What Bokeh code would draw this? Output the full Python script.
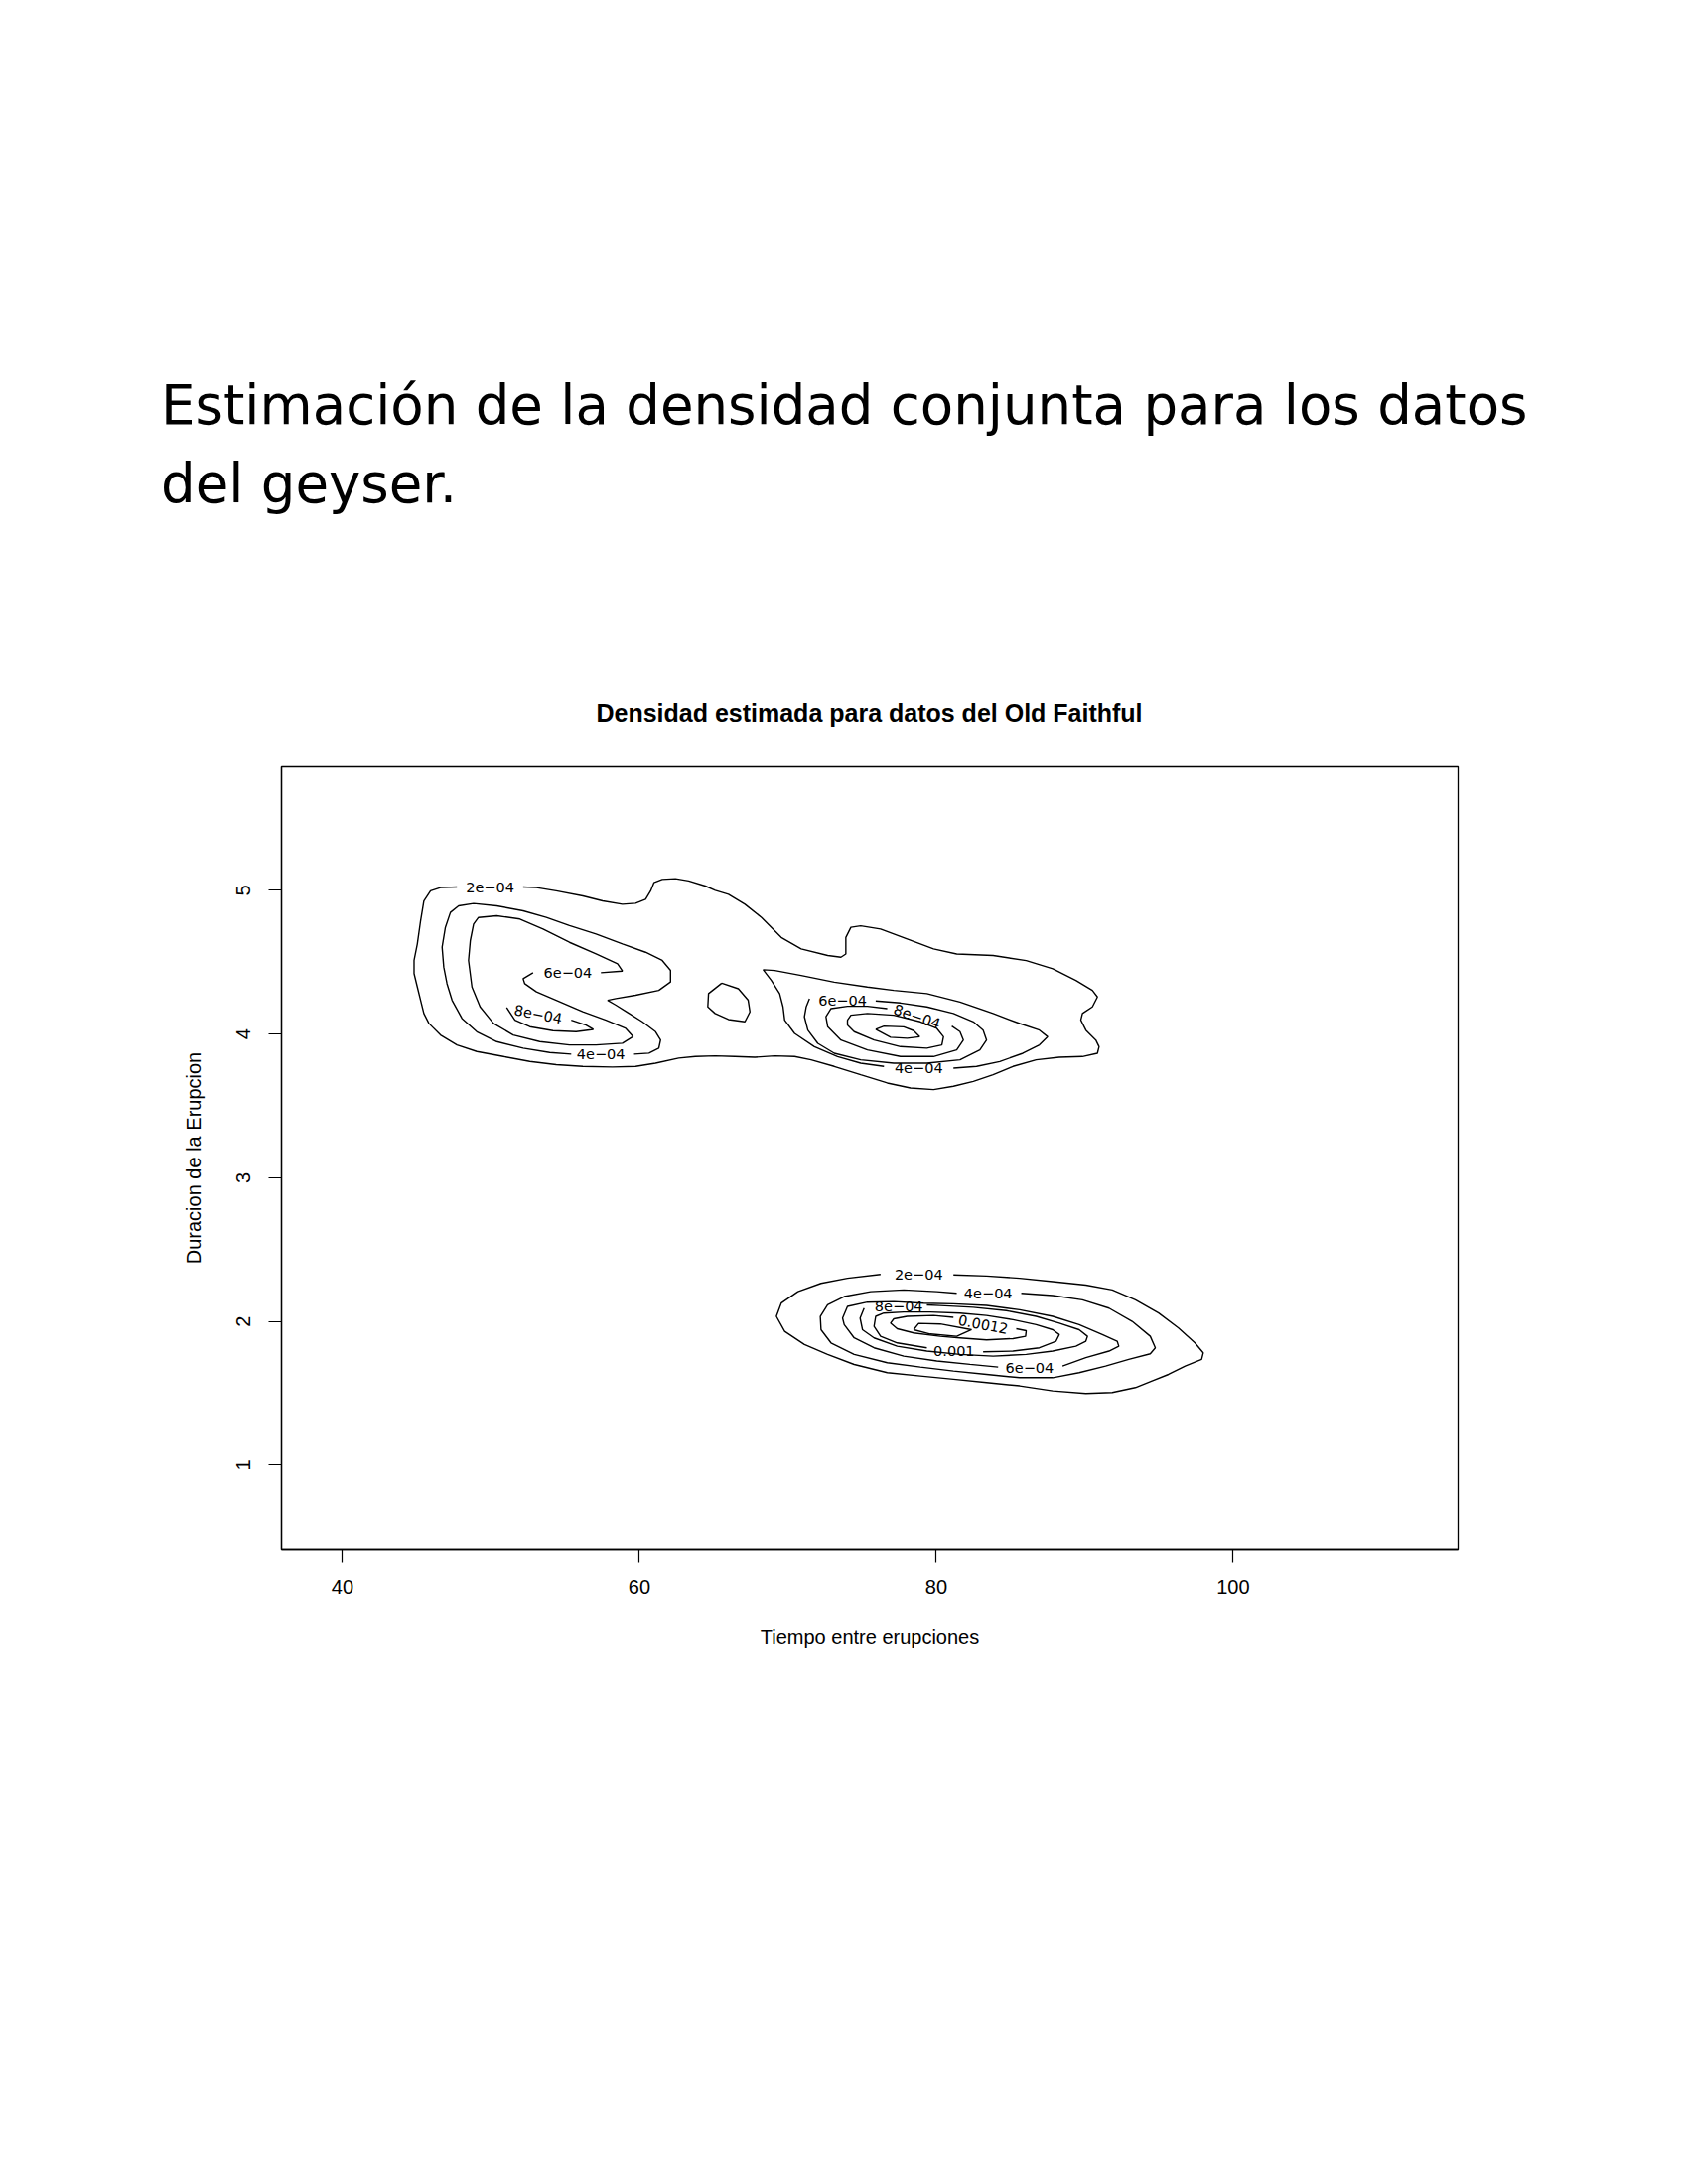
import math
from bokeh.plotting import figure
from bokeh.layouts import column
from bokeh.models import Range1d, FixedTicker, ColumnDataSource, Div
from bokeh.core.properties import value
from bokeh.embed import file_html
from bokeh.resources import INLINE

# ---------------- data ----------------
HEADING_1 = "Estimación de la densidad conjunta para los datos"
HEADING_2 = "del geyser."
TITLE = "Densidad estimada para datos del Old Faithful"
X_LABEL = "Tiempo entre erupciones"
Y_LABEL = "Duracion de la Erupcion"
X_TICKS = [40, 60, 80, 100]
Y_TICKS = [1, 2, 3, 4, 5]
X_LIM = (35.89, 115.16)
Y_LIM = (0.415, 5.859)

# contour lines (waiting, eruption) -- upper cluster
UPPER_2E04 = [(52.17, 5.023), (53.07, 5.019), (54.40, 4.996), (56.19, 4.961), (57.52, 4.926), (58.86, 4.903),
              (59.75, 4.910), (60.42, 4.938), (60.76, 4.996), (60.98, 5.053), (61.54, 5.076), (62.43, 5.081),
              (63.32, 5.065), (64.44, 5.030), (65.11, 5.000), (66.00, 4.972), (67.11, 4.903), (68.23, 4.811),
              (69.56, 4.672), (70.90, 4.592), (72.69, 4.546), (73.58, 4.534), (73.91, 4.557), (73.91, 4.672),
              (74.25, 4.742), (74.91, 4.753), (76.25, 4.730), (78.04, 4.661), (79.82, 4.592), (81.38, 4.557),
              (83.83, 4.546), (86.06, 4.511), (87.85, 4.454), (89.41, 4.373), (90.52, 4.304), (90.86, 4.258),
              (90.52, 4.189), (89.85, 4.143), (89.74, 4.097), (90.08, 4.027), (90.75, 3.958), (90.97, 3.912),
              (90.86, 3.866), (89.85, 3.843), (88.29, 3.838), (86.73, 3.820), (85.17, 3.774), (83.83, 3.716),
              (82.50, 3.670), (81.16, 3.636), (79.82, 3.613), (78.26, 3.624), (76.70, 3.659), (74.91, 3.716),
              (73.13, 3.774), (71.57, 3.820), (70.46, 3.843), (69.12, 3.848), (67.78, 3.838), (66.44, 3.843),
              (65.10, 3.848), (63.77, 3.843), (62.65, 3.832), (61.09, 3.797), (59.75, 3.774), (58.19, 3.770),
              (56.19, 3.774), (54.40, 3.786), (52.62, 3.809), (50.84, 3.843), (49.05, 3.878), (47.71, 3.924),
              (46.60, 3.993), (45.82, 4.074), (45.48, 4.143), (45.26, 4.235), (45.04, 4.327), (44.82, 4.420),
              (44.82, 4.512), (45.04, 4.627), (45.26, 4.788), (45.48, 4.926), (45.93, 4.996), (46.60, 5.019),
              (47.71, 5.023)]
UPPER_ISLAND = [(65.55, 4.354), (66.67, 4.315), (67.33, 4.235), (67.45, 4.154), (67.11, 4.085), (66.00, 4.101),
                (65.10, 4.143), (64.61, 4.189), (64.66, 4.281), (65.55, 4.354)]
LEFT_4E04 = [(59.64, 3.860), (60.65, 3.867), (61.31, 3.901), (61.43, 3.959), (61.09, 4.016), (60.20, 4.085),
             (59.31, 4.143), (58.42, 4.201), (57.86, 4.235), (58.42, 4.247), (59.75, 4.270), (61.31, 4.304),
             (62.10, 4.362), (62.10, 4.443), (61.54, 4.512), (60.42, 4.569), (58.86, 4.627), (57.08, 4.696),
             (55.29, 4.754), (53.73, 4.811), (52.17, 4.857), (50.39, 4.892), (48.83, 4.908), (47.82, 4.892),
             (47.27, 4.846), (46.93, 4.742), (46.71, 4.604), (46.82, 4.466), (47.04, 4.350), (47.38, 4.235),
             (48.05, 4.108), (49.05, 4.016), (50.39, 3.947), (52.17, 3.901), (53.96, 3.871), (55.41, 3.860)]
LEFT_6E04 = [(57.41, 4.426), (58.86, 4.438), (58.53, 4.489), (57.08, 4.558), (55.29, 4.638), (53.51, 4.731),
             (51.95, 4.800), (50.39, 4.823), (49.16, 4.811), (48.83, 4.765), (48.61, 4.650), (48.49, 4.512),
             (48.72, 4.327), (49.27, 4.189), (50.17, 4.074), (51.50, 3.993), (53.29, 3.947), (55.29, 3.924),
             (57.08, 3.924), (58.86, 3.936), (59.58, 3.982), (59.08, 4.039), (57.75, 4.097), (56.19, 4.155),
             (54.40, 4.235), (53.07, 4.293), (52.28, 4.350), (52.17, 4.385), (52.84, 4.426)]
LEFT_8E04 = [(55.41, 4.097), (56.41, 4.062), (56.90, 4.032), (55.74, 4.016), (54.18, 4.023), (52.62, 4.051),
             (51.62, 4.097), (51.06, 4.184)]
RIGHT_4E04 = [(81.16, 3.762), (82.72, 3.774), (84.28, 3.808), (85.84, 3.866), (86.95, 3.924), (87.51, 3.981),
              (86.95, 4.027), (85.62, 4.073), (83.83, 4.143), (81.60, 4.223), (79.37, 4.281), (77.14, 4.304),
              (75.36, 4.327), (73.13, 4.361), (70.90, 4.407), (69.12, 4.442), (68.34, 4.447), (68.89, 4.373),
              (69.45, 4.281), (69.68, 4.189), (69.79, 4.097), (70.46, 4.004), (71.79, 3.912), (73.35, 3.843),
              (74.91, 3.797), (76.48, 3.774)]
RIGHT_6E04 = [(75.92, 4.230), (77.59, 4.216), (79.37, 4.189), (81.16, 4.143), (82.50, 4.085), (83.16, 4.027),
              (83.39, 3.958), (82.94, 3.889), (81.60, 3.820), (79.37, 3.797), (77.14, 3.797), (74.91, 3.820),
              (73.13, 3.866), (72.02, 3.935), (71.35, 4.027), (71.12, 4.120), (71.24, 4.189), (71.46, 4.246)]
RIGHT_8E04 = [(81.05, 4.055), (81.60, 4.016), (81.83, 3.958), (81.38, 3.889), (79.82, 3.843), (77.59, 3.843),
              (75.36, 3.889), (73.58, 3.958), (72.69, 4.050), (72.57, 4.120), (72.91, 4.177), (74.02, 4.193),
              (75.36, 4.193), (76.70, 4.177)]
RIGHT_1E03 = [(74.02, 4.097), (74.25, 4.131), (75.36, 4.143), (77.14, 4.131), (78.93, 4.085), (80.04, 4.039),
              (80.49, 3.981), (80.38, 3.924), (79.37, 3.901), (77.59, 3.912), (75.81, 3.958), (74.47, 4.016),
              (74.02, 4.062), (74.02, 4.097)]
RIGHT_12E04 = [(75.92, 4.032), (76.48, 4.055), (77.81, 4.050), (78.48, 4.023), (78.88, 3.981), (78.04, 3.970),
               (76.92, 3.977), (75.92, 4.032)]

# contour lines -- lower cluster
LOWER_2E04 = [(81.16, 2.323), (83.39, 2.316), (85.62, 2.300), (87.85, 2.277), (90.08, 2.253), (91.86, 2.219),
              (93.42, 2.150), (94.98, 2.058), (96.32, 1.954), (97.43, 1.850), (97.99, 1.781), (97.88, 1.735),
              (96.77, 1.689), (95.65, 1.631), (94.54, 1.585), (93.42, 1.539), (91.86, 1.505), (90.08, 1.498),
              (87.85, 1.516), (85.62, 1.551), (83.39, 1.574), (81.16, 1.597), (78.93, 1.620), (76.70, 1.643),
              (74.47, 1.700), (72.68, 1.770), (71.12, 1.839), (69.79, 1.931), (69.23, 2.035), (69.56, 2.127),
              (70.68, 2.207), (72.24, 2.265), (74.02, 2.300), (76.25, 2.327)]
LOWER_4E04 = [(85.73, 2.196), (87.85, 2.180), (89.85, 2.150), (91.64, 2.092), (93.20, 2.000), (94.42, 1.896),
              (94.76, 1.816), (94.42, 1.774), (92.97, 1.735), (91.41, 1.689), (89.63, 1.643), (87.85, 1.608),
              (85.62, 1.608), (83.39, 1.631), (81.16, 1.654), (78.93, 1.682), (76.70, 1.712), (74.47, 1.770),
              (72.91, 1.850), (72.24, 1.942), (72.19, 2.035), (72.68, 2.115), (73.80, 2.173), (75.58, 2.207),
              (77.81, 2.219), (80.04, 2.207), (81.38, 2.196)]
LOWER_6E04 = [(88.51, 1.689), (90.08, 1.747), (91.64, 1.793), (92.30, 1.827), (92.19, 1.862), (91.19, 1.908),
              (89.63, 1.977), (87.85, 2.035), (85.62, 2.081), (83.39, 2.111), (81.16, 2.122), (79.15, 2.127),
              (77.14, 2.138), (75.36, 2.134), (74.02, 2.104), (73.69, 2.023), (73.80, 1.977), (74.47, 1.885),
              (75.81, 1.816), (77.81, 1.758), (80.04, 1.724), (82.27, 1.701), (84.17, 1.682)]
LOWER_8E04 = [(79.37, 2.115), (80.27, 2.110), (82.49, 2.098), (84.72, 2.075), (86.73, 2.035), (88.29, 1.988),
              (89.63, 1.942), (90.19, 1.896), (90.08, 1.862), (89.41, 1.827), (87.85, 1.793), (86.06, 1.770),
              (83.83, 1.758), (81.60, 1.770), (79.37, 1.793), (77.37, 1.827), (75.81, 1.885), (75.03, 1.942),
              (74.87, 2.023), (75.14, 2.092)]
LOWER_1E03 = [(83.16, 1.788), (85.17, 1.793), (86.95, 1.816), (88.07, 1.862), (88.29, 1.908), (87.85, 1.942),
              (86.73, 1.977), (85.17, 2.012), (83.39, 2.041), (81.60, 2.058), (79.60, 2.065), (77.81, 2.065),
              (76.47, 2.058), (75.92, 2.035), (75.81, 1.965), (76.25, 1.896), (77.37, 1.850), (79.37, 1.816)]
LOWER_12E04 = [(85.39, 1.949), (86.06, 1.935), (86.02, 1.896), (85.17, 1.880), (83.39, 1.871), (81.60, 1.885),
               (80.27, 1.896), (78.48, 1.919), (77.37, 1.949), (76.92, 1.988), (77.14, 2.018), (78.04, 2.035),
               (79.82, 2.041), (81.16, 2.028)]
LOWER_14E04 = [(78.48, 1.942), (78.82, 1.986), (80.27, 1.982), (82.38, 1.942), (81.38, 1.896), (79.60, 1.912),
               (78.48, 1.942)]

CONTOURS = [UPPER_2E04, UPPER_ISLAND, LEFT_4E04, LEFT_6E04, LEFT_8E04, RIGHT_4E04, RIGHT_6E04, RIGHT_8E04,
            RIGHT_1E03, RIGHT_12E04, LOWER_2E04, LOWER_4E04, LOWER_6E04, LOWER_8E04, LOWER_1E03, LOWER_12E04,
            LOWER_14E04]

# contour level labels
LEVEL_TEXT = ["2e\u221204", "6e\u221204", "8e\u221204", "4e\u221204", "6e\u221204", "8e\u221204", "4e\u221204",
              "2e\u221204", "4e\u221204", "8e\u221204", "0.0012", "0.001", "6e\u221204"]
LEVEL_X = [49.94, 55.18, 53.18, 57.41, 73.69, 78.70, 78.82, 78.82, 83.50, 77.48, 83.16, 81.20, 86.29]
LEVEL_Y = [5.023, 4.426, 4.136, 3.860, 4.235, 4.120, 3.762, 2.323, 2.196, 2.104, 1.977, 1.793, 1.677]
LEVEL_ANGLE = [0, 0, -0.19, 0, 0, -0.33, 0, 0, 0, 0, -0.19, 0, 0]

# ---------------- layout ----------------
W = 1684
TOP_H = 764               # heading band above the chart figure
ML, MT, FW, FH = 283, 8, 1185, 788
CH = 1420                 # chart figure height
AX_FONT = "Liberation Sans"

head_html = (
    f'<div style="position:relative;width:{W}px;height:{TOP_H}px;overflow:hidden;">'
    f'<div style="position:absolute;left:162px;top:369px;font-family:\'DejaVu Sans\';font-size:54.6px;'
    f'line-height:79px;color:#000;white-space:nowrap;">{HEADING_1}<br>{HEADING_2}</div>'
    f'<div style="position:absolute;left:{ML}px;width:{FW}px;top:704px;text-align:center;'
    f'font-family:\'{AX_FONT}\';font-weight:bold;font-size:25px;line-height:28px;color:#000;'
    f'white-space:nowrap;">{TITLE}</div>'
    '</div>'
)
head = Div(text=head_html, width=W, height=TOP_H, margin=0)

p = figure(width=W, height=CH, x_range=Range1d(*X_LIM), y_range=Range1d(*Y_LIM),
           output_backend="svg", toolbar_location=None,
           min_border_left=ML, min_border_top=MT,
           min_border_right=W - ML - FW, min_border_bottom=CH - MT - FH)
p.grid.visible = False
p.background_fill_color = "white"
p.border_fill_color = "white"
p.outline_line_color = "black"
p.outline_line_width = 1.3

for ax in (p.xaxis[0], p.yaxis[0]):
    ax.axis_line_color = "black"
    ax.axis_line_width = 1.3
    ax.major_tick_line_color = "black"
    ax.major_tick_line_width = 1.2
    ax.major_tick_out = 13
    ax.major_tick_in = 0
    ax.minor_tick_line_color = None
    ax.major_label_text_font = AX_FONT
    ax.major_label_text_font_size = "20px"
    ax.major_label_text_color = "black"
    ax.axis_label_text_font = AX_FONT
    ax.axis_label_text_font_size = "20px"
    ax.axis_label_text_font_style = "normal"
    ax.axis_label_text_color = "black"

p.xaxis.ticker = FixedTicker(ticks=X_TICKS)
p.yaxis.ticker = FixedTicker(ticks=Y_TICKS)
p.xaxis.axis_label = X_LABEL
p.yaxis.axis_label = Y_LABEL
p.xaxis.major_label_standoff = 18
p.xaxis.axis_label_standoff = 29
p.yaxis.major_label_orientation = "parallel"
p.yaxis.major_label_standoff = 18
p.yaxis.axis_label_standoff = 30

xs = [[pt[0] for pt in c] for c in CONTOURS]
ys = [[pt[1] for pt in c] for c in CONTOURS]
p.multi_line(xs=xs, ys=ys, line_color="black", line_width=1.4)

lab_src = ColumnDataSource(dict(x=LEVEL_X, y=LEVEL_Y, text=LEVEL_TEXT, angle=LEVEL_ANGLE))
p.text(x="x", y="y", text="text", angle="angle", source=lab_src,
       text_font=value("DejaVu Sans"), text_font_size="14.5px", text_color="black",
       text_align="center", text_baseline="middle")

page = column(head, p, spacing=0)
open("out.html", "w").write(file_html(page, INLINE))
